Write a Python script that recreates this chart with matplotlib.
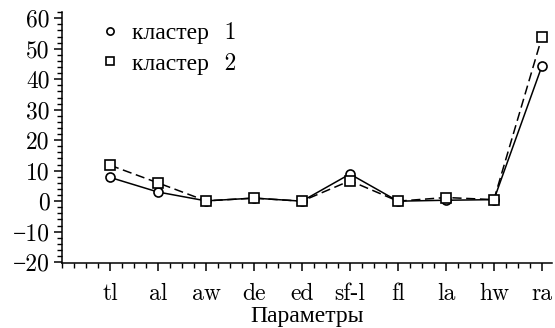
import matplotlib.pyplot as plt
from matplotlib.ticker import MultipleLocator

# parameter means for the two clusters
params = ['tl', 'al', 'aw', 'de', 'ed', 'sf-l', 'fl', 'la', 'hw', 'ra']
cluster1 = [7.8, 3.0, 0.1, 1.0, 0.0, 8.9, 0.0, 0.3, 0.5, 44.3]
cluster2 = [11.8, 6.0, 0.1, 1.0, 0.0, 6.7, 0.0, 1.2, 0.5, 53.8]
yticks = [-20, -10, 0, 10, 20, 30, 40, 50, 60]

plt.rcParams['font.family'] = ['cmr10', 'Liberation Serif']
plt.rcParams['font.size'] = 17
plt.rcParams['axes.unicode_minus'] = True

fig = plt.figure(figsize=(5.55, 3.28), dpi=100)
ax = fig.add_axes([0.1117, 0.198, 0.882, 0.765])

x = list(range(1, len(params) + 1))
ax.plot(x, cluster1, '-', color='black', lw=1.1, marker='o', ms=6.5,
        mfc='white', mec='black', mew=1.2, label='кластер  1')
ax.plot(x, cluster2, '--', color='black', lw=1.1, dashes=(6, 3), marker='s', ms=6.5,
        mfc='white', mec='black', mew=1.2, label='кластер  2')

ax.set_xlim(0, 10.2)
ax.set_ylim(-20.3, 62)
ax.set_xticks(x)
ax.set_xticklabels(params)
ax.set_yticks(yticks)
ax.set_yticklabels([str(v).replace('-', '\u2212') for v in yticks])
ax.xaxis.set_minor_locator(MultipleLocator(0.25))
ax.yaxis.set_minor_locator(MultipleLocator(2))
ax.tick_params(which='major', length=6, width=1.1, direction='out', pad=3)
ax.tick_params(axis='x', which='major', pad=8)
ax.tick_params(which='minor', length=3.5, width=1.0, direction='out')

for side in ['top', 'right']:
    ax.spines[side].set_visible(False)
for side in ['left', 'bottom']:
    ax.spines[side].set_linewidth(1.1)

ax.set_xlabel('Параметры', labelpad=0)

leg = ax.legend(loc='upper left', bbox_to_anchor=(0.036, 1.045), frameon=False,
                handlelength=0.8, handletextpad=0.5, labelspacing=0.35,
                markerscale=0.8)
for line in leg.get_lines():
    line.set_linestyle('none')

fig.savefig('out.png', dpi=100)
